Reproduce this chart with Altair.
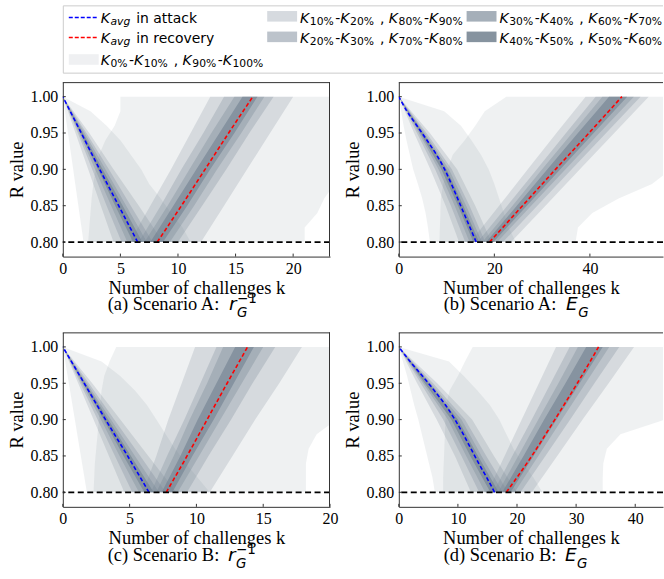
import altair as alt
import pandas as pd

# ---------------- data ----------------
R_OUT = [0.80, 0.82, 0.84, 0.86, 0.88, 0.90, 0.92, 0.94, 0.96, 0.98, 1.00]
R_IN = [0.80, 0.85, 0.90, 0.95, 1.00]
Y_TICKS = [0.80, 0.85, 0.90, 0.95, 1.00]

# Panel (a) Scenario A: r_G^-1
A_ATT_AVG = [6.5, 4.85, 3.2, 1.6, 0]            # on R_IN
A_REC_AVG = [8.2, 10.3, 12.35, 14.4, 16.5]      # on R_IN
A_ATT = {10: [4.4, 3.3, 2.2, 1.1, 0], 20: [5.1, 3.8, 2.55, 1.3, 0],
         30: [5.6, 4.2, 2.8, 1.42, 0], 40: [6.1, 4.55, 3.05, 1.52, 0],
         60: [6.9, 5.2, 3.45, 1.75, 0], 70: [7.3, 5.5, 3.7, 1.9, 0],
         80: [7.8, 5.9, 4.0, 2.05, 0], 90: [8.7, 6.6, 4.4, 2.3, 0]}
A_ATT_K0 = [1.8, 1.62, 1.44, 1.26, 1.08, 0.9, 0.72, 0.54, 0.36, 0.18, 0]
A_ATT_K100 = [11.1, 10.4, 9.4, 8.5, 7.5, 6.8, 5.9, 5.0, 3.8, 2.4, 0]
A_REC = {10: [5.8, 7.6, 9.4, 11.1, 12.8], 20: [6.6, 8.5, 10.3, 12.2, 14.0],
         30: [7.1, 9.1, 11.0, 12.9, 14.9], 40: [7.6, 9.6, 11.6, 13.6, 15.6],
         60: [8.7, 10.8, 12.8, 14.9, 16.9], 70: [9.3, 11.4, 13.4, 15.5, 17.5],
         80: [10.0, 12.1, 14.2, 16.2, 18.3], 90: [12.0, 14.0, 16.0, 18.0, 20.0]}
A_REC_K0 = [2.2, 2.3, 2.4, 2.5, 2.65, 2.85, 3.15, 3.7, 4.5, 5.0, 5.0]
A_REC_K100 = [21.0, 21.0, 22.1, 22.7, 23.6, 24.0, 24.5, 25.0, 25.5, 26.0, 26.5]

# Panel (b) Scenario A: E_G
B_ATT_AVG = [16.2, 14.9, 13.6, 12.3, 11.0, 9.6, 7.9, 5.9, 3.8, 1.7, 0]   # on R_OUT
B_REC_AVG = [19.0, 25.9, 32.8, 39.8, 46.7]                               # on R_IN
B_ATT = {10: [12.6, 9.8, 6.6, 3.2, 0], 20: [13.9, 10.9, 7.6, 3.8, 0],
         30: [14.8, 11.7, 8.3, 4.2, 0], 40: [15.6, 12.4, 8.9, 4.5, 0],
         60: [16.8, 13.5, 10.0, 5.1, 0], 70: [17.4, 14.1, 10.5, 5.4, 0],
         80: [18.1, 14.8, 11.1, 5.8, 0], 90: [19.4, 16.0, 12.2, 6.5, 0]}
B_ATT_K0 = [6.5, 6.1, 5.6, 4.9, 4.0, 3.0, 2.3, 1.6, 1.0, 0.5, 0]
B_ATT_K100 = [24.5, 23.0, 22.0, 21.0, 20.0, 18.8, 17.2, 15.2, 13.0, 9.5, 0]
B_REC = {10: [15.0, 21.0, 27.0, 33.0, 39.1], 20: [16.5, 22.7, 28.9, 35.0, 41.2],
         30: [17.5, 23.8, 30.0, 36.3, 42.6], 40: [18.3, 24.7, 31.1, 37.5, 44.0],
         60: [19.8, 26.8, 33.8, 40.8, 47.8], 70: [20.6, 27.7, 34.9, 42.0, 49.2],
         80: [21.8, 29.0, 36.2, 43.4, 50.6], 90: [23.5, 30.7, 37.9, 45.1, 52.3]}
B_REC_K0 = [8.5, 8.6, 8.7, 8.8, 9.3, 10.2, 11.3, 13.8, 16.0, 18.0, 22.5]
B_REC_K100 = [37.0, 37.5, 40.5, 46.0, 53.0, 57.0, 59.0, 61.0, 63.0, 65.0, 67.0]

# Panel (c) Scenario B: r_G^-1
C_ATT_AVG = [6.45, 4.85, 3.2, 1.6, 0]           # on R_IN
C_REC_AVG = [7.74, 9.3, 10.8, 12.3, 13.83]      # on R_IN
C_ATT = {10: [4.6, 3.45, 2.3, 1.15, 0], 20: [5.2, 3.9, 2.6, 1.3, 0],
         30: [5.7, 4.25, 2.85, 1.42, 0], 40: [6.1, 4.55, 3.05, 1.52, 0],
         60: [6.8, 5.1, 3.4, 1.7, 0], 70: [7.2, 5.4, 3.6, 1.8, 0],
         80: [7.7, 5.8, 3.85, 1.95, 0], 90: [8.5, 6.4, 4.3, 2.2, 0]}
C_ATT_K0 = [1.8, 1.62, 1.44, 1.26, 1.08, 0.9, 0.72, 0.54, 0.36, 0.18, 0]
C_ATT_K100 = [11.0, 10.1, 9.2, 8.4, 7.7, 7.0, 6.3, 5.4, 4.3, 2.9, 0]
C_REC = {10: [6.0, 7.0, 7.9, 8.9, 9.9], 20: [6.6, 7.8, 9.1, 10.3, 11.5],
         30: [7.0, 8.3, 9.5, 10.8, 12.0], 40: [7.4, 8.8, 10.1, 11.5, 12.9],
         60: [8.2, 9.7, 11.3, 12.8, 14.3], 70: [8.6, 10.2, 11.8, 13.4, 15.0],
         80: [9.3, 10.9, 12.6, 14.2, 15.9], 90: [11.0, 12.7, 14.4, 16.2, 17.9]}
C_REC_K0 = [2.3, 2.35, 2.4, 2.5, 2.6, 2.7, 2.8, 2.9, 3.1, 3.5, 4.0]
C_REC_K100 = [18.2, 18.2, 18.2, 18.4, 19.0, 20.5, 21.0, 21.5, 22.0, 22.5, 23.0]

# Panel (d) Scenario B: E_G
D_ATT_AVG = [16.2, 14.9, 13.5, 12.2, 10.9, 9.5, 7.9, 6.0, 4.0, 1.9, 0]   # on R_OUT
D_REC_AVG = [18.2, 22.5, 26.4, 30.2, 33.8]                               # on R_IN
D_ATT = {10: [12.2, 9.5, 6.4, 3.1, 0], 20: [13.6, 10.6, 7.5, 3.7, 0],
         30: [14.6, 11.4, 8.3, 4.1, 0], 40: [15.5, 12.1, 8.9, 4.4, 0],
         60: [16.9, 13.4, 10.0, 5.1, 0], 70: [17.6, 14.0, 10.6, 5.4, 0],
         80: [18.5, 14.8, 11.2, 5.8, 0], 90: [20.0, 16.1, 12.4, 6.5, 0]}
D_ATT_K0 = [6.1, 5.7, 5.1, 4.5, 3.9, 3.3, 2.6, 2.0, 1.4, 0.7, 0]
D_ATT_K100 = [24.3, 22.8, 21.0, 19.4, 18.2, 17.0, 15.4, 13.3, 11.0, 8.5, 0]
D_REC = {10: [15.0, 17.9, 20.8, 23.7, 26.6], 20: [16.0, 19.2, 22.5, 25.7, 28.9],
         30: [16.8, 20.2, 23.6, 27.0, 30.3], 40: [17.5, 21.1, 24.6, 28.2, 31.7],
         60: [18.9, 22.8, 26.7, 30.6, 34.5], 70: [19.6, 23.6, 27.6, 31.6, 35.6],
         80: [20.6, 24.8, 29.0, 33.1, 37.3], 90: [22.5, 26.8, 31.1, 35.5, 39.8]}
D_REC_K0 = [7.5, 7.5, 7.6, 7.7, 7.8, 7.9, 8.0, 8.6, 10.0, 11.2, 12.5]
D_REC_K100 = [34.5, 34.5, 34.6, 35.2, 37.5, 45.0, 47.0, 48.0, 49.0, 50.0, 51.0]

X_TICKS_A = [0, 5, 10, 15, 20]
X_TICKS_B = [0, 20, 40]
X_TICKS_C = [0, 5, 10, 15, 20]
X_TICKS_D = [0, 10, 20, 30, 40]

# ---------------- style ----------------
SERIF = "Liberation Serif"
SANS = "DejaVu Sans"
BAND = "#708090"
OPAC = [0.115, 0.198, 0.254, 0.302, 0.595]
PATCH = ["#eff0f2", "#d6dadf", "#bcc3cb", "#a5afb9", "#86939f"]
H = 175
LEG_DY = -77  # legend offset above panel (a)

DJV = {'K': 0.656, 'a': 0.613, 'v': 0.592, 'g': 0.635, 'i': 0.278, 'n': 0.634,
       ' ': 0.318, 't': 0.392, 'c': 0.550, 'k': 0.579, 'r': 0.411, 'e': 0.615,
       'o': 0.612, 'y': 0.592, '%': 0.950, '-': 0.361, ',': 0.318, 'E': 0.632,
       'G': 0.775, '\u2212': 0.838}
TMS = {'(': 0.333, ')': 0.333, ' ': 0.25, 'a': 0.444, 'b': 0.5, 'c': 0.444,
       'd': 0.5, 'S': 0.556, 'e': 0.444, 'n': 0.5, 'r': 0.333, 'i': 0.278,
       'o': 0.5, 'A': 0.722, 'B': 0.667, ':': 0.278}


def tw(s, table, size):
    return sum(table.get(ch, 0.636) for ch in s) * size


def one_row():
    return pd.DataFrame({"v": [0]})


def seg(txt, x, y, size, font, italic=False):
    return alt.Chart(one_row()).mark_text(
        text=txt, align="left", baseline="alphabetic", font=font,
        fontSize=size, fontStyle="italic" if italic else "normal", color="black"
    ).encode(x=alt.value(x), y=alt.value(y))


def math_label(parts, x0, y0, main=14, sub=10.8):
    out = []
    x = x0
    for text, kind in parts:
        if kind in ("sub", "isub"):
            size, dy = sub, 2.6
        else:
            size, dy = main, 0
        lead = len(text) - len(text.lstrip(" "))
        trail = len(text) - len(text.rstrip(" "))
        t = text.strip(" ")
        x += lead * DJV[' '] * size
        out.append(seg(t, x, y0 + dy, size, SANS, italic=(kind in ("K", "isub"))))
        x += tw(t, DJV, size) + trail * DJV[' '] * size
        if kind == "K":
            x += 0.6
        if kind in ("sub", "isub"):
            x += 1.5
    return out


def pct_parts(a, b, c, d):
    return [("K", "K"), (f"{a}%", "sub"), ("-", "txt"), ("K", "K"), (f"{b}%", "sub"),
            (" , ", "txt"), ("K", "K"), (f"{c}%", "sub"), ("-", "txt"), ("K", "K"),
            (f"{d}%", "sub")]


# ---------------- legend (drawn above panel a) ----------------
def legend_layers():
    top = LEG_DY
    layers = []
    box = dict(color="#cccccc", strokeWidth=1)
    layers.append(alt.Chart(one_row()).mark_rule(**box).encode(
        x=alt.value(0.5), x2=alt.value(602), y=alt.value(top + 0.5)))
    layers.append(alt.Chart(one_row()).mark_rule(**box).encode(
        x=alt.value(0.5), x2=alt.value(602), y=alt.value(top + 68)))
    layers.append(alt.Chart(one_row()).mark_rule(**box).encode(
        x=alt.value(0.5), y=alt.value(top + 0.5), y2=alt.value(top + 68)))
    for yv, col in ((12.3, "#0000ff"), (32.3, "#ff0000")):
        layers.append(alt.Chart(one_row()).mark_rule(
            color=col, strokeDash=[4, 2], strokeWidth=1.5
        ).encode(x=alt.value(6), x2=alt.value(36), y=alt.value(top + yv)))
    patches = [(6, 49, 0), (205, 5.7, 1), (205, 26.3, 2), (405, 5.7, 3), (405, 26.3, 4)]
    for px, py, lev in patches:
        layers.append(alt.Chart(one_row()).mark_rect(color=PATCH[lev]).encode(
            x=alt.value(px), x2=alt.value(px + 30),
            y=alt.value(top + py), y2=alt.value(top + py + 10.6)))
    texts = []
    texts += math_label([("K", "K"), ("avg", "isub"), (" in attack", "txt")], 38, top + 17.3)
    texts += math_label([("K", "K"), ("avg", "isub"), (" in recovery", "txt")], 38, top + 37.3)
    texts += math_label(pct_parts(0, 10, 90, 100), 38, top + 59.5)
    texts += math_label(pct_parts(10, 20, 80, 90), 238, top + 17.3)
    texts += math_label(pct_parts(20, 30, 70, 80), 238, top + 37.3)
    texts += math_label(pct_parts(30, 40, 60, 70), 438, top + 17.3)
    texts += math_label(pct_parts(40, 50, 50, 60), 438, top + 37.3)
    return layers + texts


# ---------------- panels ----------------
def caption(prefix, letter, with_sup):
    size = 18.5
    y = H + 54
    x = 45
    out = [seg(prefix, x, y, size, SERIF)]
    x += tw(prefix, TMS, size) + TMS[' '] * size + 4
    out.append(seg(letter, x, y, size, SANS, italic=True))
    x += tw(letter, DJV, size) + 0.5
    out.append(seg("G", x, y + 7, 13.5, SANS, italic=True))
    if with_sup:
        out.append(seg("\u22121", x, y - 7, 13.5, SANS))
    return out


def make_panel(att, att_avg, att_k0, att_k100, rec, rec_avg, rec_k0, rec_k100,
               xmax, xticks, w, prefix, letter, with_sup, right_border, extra=()):
    sx = alt.Scale(domain=[0, xmax], nice=False, zero=False)
    sy = alt.Scale(domain=[0.78, 1.02], nice=False, zero=False)
    ax = alt.Axis(values=xticks, format="d", title="Number of challenges k",
                  labelFont=SERIF, labelFontSize=16, labelColor="black",
                  titleFont=SERIF, titleFontSize=18.5, titleFontWeight="normal",
                  titleColor="black", ticks=False, grid=False, domainColor="#333333",
                  labelPadding=4, titlePadding=2, labelFlush=False)
    ay = alt.Axis(values=Y_TICKS, format=".2f", title="R value",
                  labelFont=SERIF, labelFontSize=16, labelColor="black",
                  titleFont=SERIF, titleFontSize=18.5, titleFontWeight="normal",
                  titleColor="black", ticks=False, grid=False, domainColor="#333333",
                  labelPadding=5, titlePadding=3)

    def X(f):
        return alt.X(f"{f}:Q", scale=sx, axis=ax)

    def Y(f):
        return alt.Y(f"{f}:Q", scale=sy, axis=ay)

    layers = []
    for din, k0, k100 in ((att, att_k0, att_k100), (rec, rec_k0, rec_k100)):
        bands = [(R_OUT, k0, k100)]
        for p, q in [(10, 90), (20, 80), (30, 70), (40, 60)]:
            bands.append((R_IN, din[p], din[q]))
        for lev, (rr, lo, hi) in enumerate(bands):
            d = pd.DataFrame({"R": rr, "lo": lo, "hi": hi})
            layers.append(alt.Chart(d).mark_area(
                orient="horizontal", color=BAND, opacity=OPAC[lev], clip=True
            ).encode(y=Y("R"), x=X("lo"), x2=alt.X2("hi")))

    for avg, col in ((att_avg, "#0000ff"), (rec_avg, "#ff0000")):
        rr = R_OUT if len(avg) == len(R_OUT) else R_IN
        layers.append(alt.Chart(pd.DataFrame({"R": rr, "k": avg})).mark_line(
            color=col, strokeDash=[4, 2.5], strokeWidth=1.6, clip=True,
            interpolate="monotone"
        ).encode(x=X("k"), y=Y("R"), order=alt.Order("R:Q")))

    layers.append(alt.Chart(pd.DataFrame({"R": [0.8]})).mark_rule(
        color="black", strokeDash=[6, 3.5], strokeWidth=1.8
    ).encode(y=Y("R")))

    # inward ticks
    layers.append(alt.Chart(pd.DataFrame({"t": xticks})).mark_rule(
        color="#333333", strokeWidth=1).encode(x=X("t"), y=alt.value(H), y2=alt.value(H - 3)))
    layers.append(alt.Chart(pd.DataFrame({"t": Y_TICKS})).mark_rule(
        color="#333333", strokeWidth=1).encode(y=Y("t"), x=alt.value(0), x2=alt.value(3)))

    # top / right frame
    layers.append(alt.Chart(one_row()).mark_rule(color="#333333", strokeWidth=1).encode(
        x=alt.value(0), x2=alt.value(w), y=alt.value(0.5)))
    if right_border:
        layers.append(alt.Chart(one_row()).mark_rule(color="#333333", strokeWidth=1).encode(
            x=alt.value(w - 0.5), y=alt.value(0), y2=alt.value(H)))

    layers += caption(prefix, letter, with_sup)
    layers += list(extra)
    return alt.layer(*layers).properties(width=w, height=H)


pa = make_panel(A_ATT, A_ATT_AVG, A_ATT_K0, A_ATT_K100, A_REC, A_REC_AVG, A_REC_K0, A_REC_K100,
                23.2, X_TICKS_A, 268, "(a) Scenario A:", "r", True, True,
                extra=legend_layers())
pb = make_panel(B_ATT, B_ATT_AVG, B_ATT_K0, B_ATT_K100, B_REC, B_REC_AVG, B_REC_K0, B_REC_K100,
                55.3, X_TICKS_B, 265, "(b) Scenario A:", "E", False, False)
pc = make_panel(C_ATT, C_ATT_AVG, C_ATT_K0, C_ATT_K100, C_REC, C_REC_AVG, C_REC_K0, C_REC_K100,
                20.0, X_TICKS_C, 268, "(c) Scenario B:", "r", True, True)
pd_ = make_panel(D_ATT, D_ATT_AVG, D_ATT_K0, D_ATT_K100, D_REC, D_REC_AVG, D_REC_K0, D_REC_K100,
                 44.7, X_TICKS_D, 265, "(d) Scenario B:", "E", False, False)

chart = alt.concat(
    pa, pb, pc, pd_, columns=2, bounds="flush",
    spacing={"row": 76, "column": 69},
).properties(
    padding={"left": 8, "top": 4.5, "right": 0, "bottom": 4},
    background="white",
).configure_view(stroke=None)

chart.save("out.html", embed_options={"renderer": "svg", "actions": False})
